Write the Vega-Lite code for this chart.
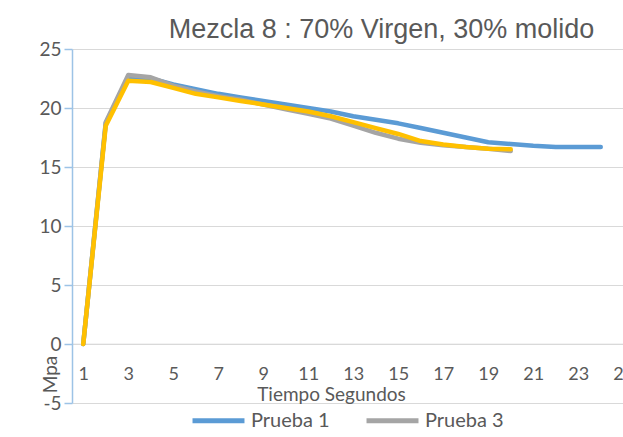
{
  "$schema": "https://vega.github.io/schema/vega-lite/v6.json",
  "autosize": {"type": "none"},
  "width": 551,
  "height": 354,
  "padding": {"left": 72, "top": 49, "right": 0, "bottom": 34},
  "background": "white",
  "title": {
    "text": "Mezcla 8 : 70% Virgen, 30% molido",
    "font": "Liberation Sans",
    "fontSize": 27,
    "fontWeight": "normal",
    "color": "#595959",
    "anchor": "middle",
    "frame": "group",
    "dx": 34,
    "offset": -4
  },
  "data": {
    "values": [
      {"t": 1, "v": 0, "s": "Prueba 1"},
      {"t": 2, "v": 18.7, "s": "Prueba 1"},
      {"t": 3, "v": 22.6, "s": "Prueba 1"},
      {"t": 4, "v": 22.5, "s": "Prueba 1"},
      {"t": 5, "v": 22.0, "s": "Prueba 1"},
      {"t": 6, "v": 21.6, "s": "Prueba 1"},
      {"t": 7, "v": 21.2, "s": "Prueba 1"},
      {"t": 8, "v": 20.9, "s": "Prueba 1"},
      {"t": 9, "v": 20.6, "s": "Prueba 1"},
      {"t": 10, "v": 20.3, "s": "Prueba 1"},
      {"t": 11, "v": 20.0, "s": "Prueba 1"},
      {"t": 12, "v": 19.7, "s": "Prueba 1"},
      {"t": 13, "v": 19.3, "s": "Prueba 1"},
      {"t": 14, "v": 19.0, "s": "Prueba 1"},
      {"t": 15, "v": 18.7, "s": "Prueba 1"},
      {"t": 16, "v": 18.3, "s": "Prueba 1"},
      {"t": 17, "v": 17.9, "s": "Prueba 1"},
      {"t": 18, "v": 17.5, "s": "Prueba 1"},
      {"t": 19, "v": 17.1, "s": "Prueba 1"},
      {"t": 20, "v": 16.95, "s": "Prueba 1"},
      {"t": 21, "v": 16.8, "s": "Prueba 1"},
      {"t": 22, "v": 16.7, "s": "Prueba 1"},
      {"t": 23, "v": 16.7, "s": "Prueba 1"},
      {"t": 24, "v": 16.7, "s": "Prueba 1"},
      {"t": 1, "v": 0, "s": "Prueba 3"},
      {"t": 2, "v": 18.8, "s": "Prueba 3"},
      {"t": 3, "v": 22.8, "s": "Prueba 3"},
      {"t": 4, "v": 22.6, "s": "Prueba 3"},
      {"t": 5, "v": 21.9, "s": "Prueba 3"},
      {"t": 6, "v": 21.4, "s": "Prueba 3"},
      {"t": 7, "v": 21.0, "s": "Prueba 3"},
      {"t": 8, "v": 20.7, "s": "Prueba 3"},
      {"t": 9, "v": 20.3, "s": "Prueba 3"},
      {"t": 10, "v": 19.9, "s": "Prueba 3"},
      {"t": 11, "v": 19.5, "s": "Prueba 3"},
      {"t": 12, "v": 19.1, "s": "Prueba 3"},
      {"t": 13, "v": 18.5, "s": "Prueba 3"},
      {"t": 14, "v": 17.9, "s": "Prueba 3"},
      {"t": 15, "v": 17.4, "s": "Prueba 3"},
      {"t": 16, "v": 17.05, "s": "Prueba 3"},
      {"t": 17, "v": 16.85, "s": "Prueba 3"},
      {"t": 18, "v": 16.7, "s": "Prueba 3"},
      {"t": 19, "v": 16.55, "s": "Prueba 3"},
      {"t": 20, "v": 16.35, "s": "Prueba 3"},
      {"t": 1, "v": 0, "s": "Prueba 2"},
      {"t": 2, "v": 18.5, "s": "Prueba 2"},
      {"t": 3, "v": 22.3, "s": "Prueba 2"},
      {"t": 4, "v": 22.2, "s": "Prueba 2"},
      {"t": 5, "v": 21.7, "s": "Prueba 2"},
      {"t": 6, "v": 21.2, "s": "Prueba 2"},
      {"t": 7, "v": 20.9, "s": "Prueba 2"},
      {"t": 8, "v": 20.6, "s": "Prueba 2"},
      {"t": 9, "v": 20.3, "s": "Prueba 2"},
      {"t": 10, "v": 20.0, "s": "Prueba 2"},
      {"t": 11, "v": 19.7, "s": "Prueba 2"},
      {"t": 12, "v": 19.3, "s": "Prueba 2"},
      {"t": 13, "v": 18.8, "s": "Prueba 2"},
      {"t": 14, "v": 18.3, "s": "Prueba 2"},
      {"t": 15, "v": 17.8, "s": "Prueba 2"},
      {"t": 16, "v": 17.2, "s": "Prueba 2"},
      {"t": 17, "v": 16.9, "s": "Prueba 2"},
      {"t": 18, "v": 16.7, "s": "Prueba 2"},
      {"t": 19, "v": 16.55, "s": "Prueba 2"},
      {"t": 20, "v": 16.5, "s": "Prueba 2"}
    ]
  },
  "mark": {"type": "line", "strokeWidth": 4.5, "strokeJoin": "round", "strokeCap": "round"},
  "encoding": {
    "x": {
      "field": "t",
      "type": "quantitative",
      "scale": {"domain": [0.5, 25.5], "range": [0, 562.5], "nice": false, "zero": false},
      "axis": {
        "title": "Tiempo Segundos",
        "values": [1, 3, 5, 7, 9, 11, 13, 15, 17, 19, 21, 23, 25],
        "offset": -59.3,
        "grid": false,
        "ticks": false,
        "domainColor": "#d9d9d9",
        "domainWidth": 1,
        "labelFont": "Lato",
        "labelFontSize": 18,
        "labelColor": "#595959",
        "labelPadding": 22,
        "labelFlush": false,
        "labelOverlap": false,
        "titleFont": "Lato",
        "titleFontSize": 19,
        "titleFontWeight": "normal",
        "titleColor": "#595959",
        "titleX": 259,
        "titleY": 51,
        "titleBaseline": "middle",
        "titleAlign": "center"
      }
    },
    "y": {
      "field": "v",
      "type": "quantitative",
      "scale": {"domain": [-5, 25], "nice": false, "zero": false},
      "axis": {
        "title": "Mpa",
        "values": [-5, 0, 5, 10, 15, 20, 25],
        "labelExpr": "'' + datum.value",
        "grid": true,
        "gridColor": "#d9d9d9",
        "gridWidth": 1,
        "domainColor": "#9dc3e6",
        "domainWidth": 1.5,
        "tickColor": "#9dc3e6",
        "tickSize": 8,
        "tickWidth": 1.5,
        "labelFont": "Lato",
        "labelFontSize": 19,
        "labelColor": "#595959",
        "labelPadding": 3,
        "titleFont": "Lato",
        "titleFontSize": 19,
        "titleFontWeight": "normal",
        "titleColor": "#595959",
        "titleX": -22,
        "titleY": 325,
        "titleAngle": 270,
        "titleBaseline": "middle",
        "titleAlign": "center"
      }
    },
    "color": {
      "field": "s",
      "type": "nominal",
      "scale": {"domain": ["Prueba 1", "Prueba 3", "Prueba 2"], "range": ["#5b9bd5", "#a5a5a5", "#ffc000"]},
      "legend": {
        "values": ["Prueba 1", "Prueba 3"],
        "title": null,
        "orient": "none",
        "direction": "horizontal",
        "legendX": 118,
        "legendY": 343,
        "symbolType": "stroke",
        "symbolStrokeWidth": 5,
        "symbolSize": 2700,
        "labelFont": "Lato",
        "labelFontSize": 20,
        "labelColor": "#595959",
        "labelOffset": 4,
        "columnPadding": 26,
        "offset": 0,
        "padding": 0
      }
    }
  },
  "config": {"view": {"stroke": null}}
}
